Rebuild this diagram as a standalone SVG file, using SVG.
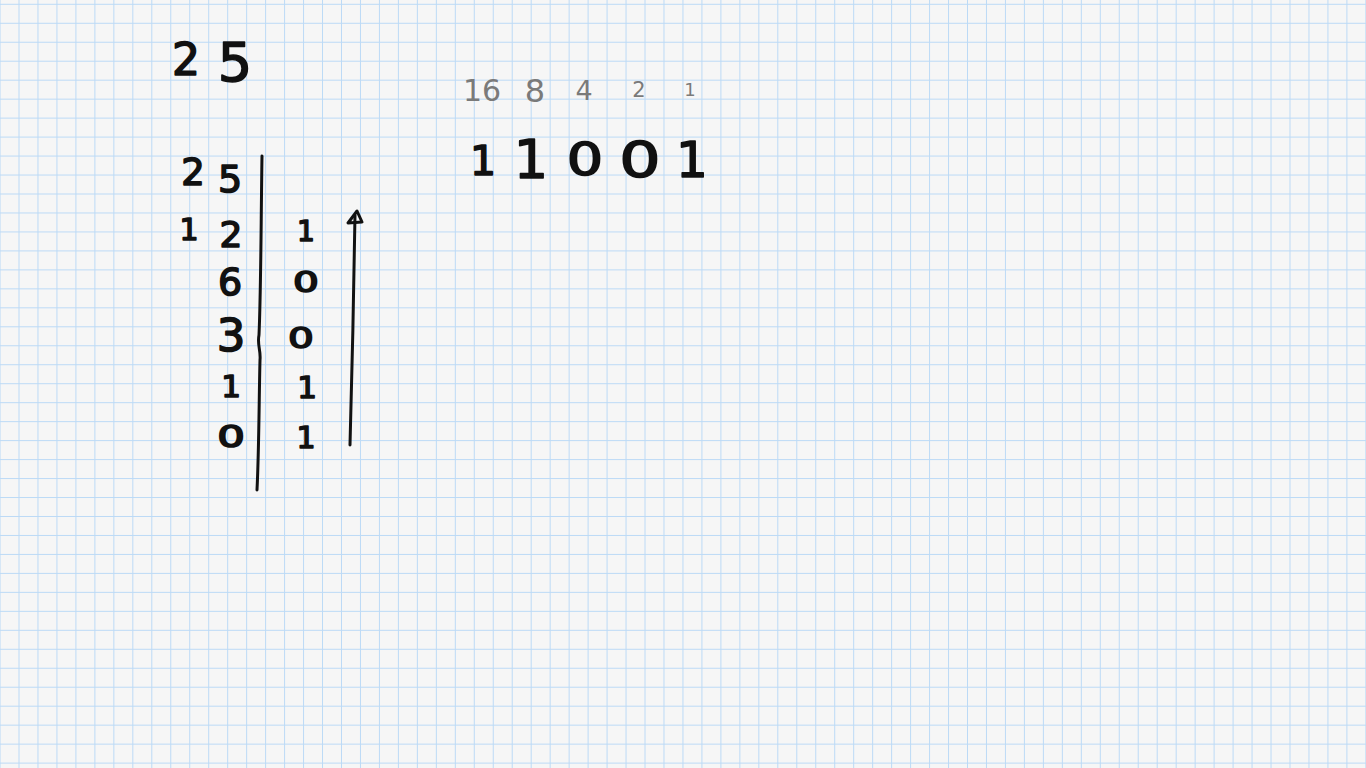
<svg xmlns="http://www.w3.org/2000/svg" width="1366" height="768" viewBox="0 0 1366 768">
<defs>
<pattern id="grid" patternUnits="userSpaceOnUse" x="18.5" y="3.8" width="18.97" height="18.97">
<rect x="0" y="0" width="1" height="18.97" fill="#bcdaf6"/>
<rect x="0" y="0" width="18.97" height="1" fill="#bcdaf6"/>
</pattern>
<style>
.ink{font-family:"DejaVu Sans",sans-serif;fill:#111;stroke:#111;stroke-width:1.6;stroke-linejoin:round;text-anchor:middle}
.pencil{font-family:"DejaVu Sans",sans-serif;fill:#7a7a7a;text-anchor:middle}
.line{fill:none;stroke:#111;stroke-width:3;stroke-linecap:round;stroke-linejoin:round}
</style>
</defs>
<rect width="1366" height="768" fill="#f6f6f6"/>
<rect width="1366" height="768" fill="url(#grid)"/>

<g id="number">
<text class="ink" x="186" y="75" font-size="44">2</text>
<text class="ink" x="235" y="81" font-size="54">5</text>
</g>

<g id="quotients">
<text class="ink" x="193" y="185" font-size="37">2</text>
<text class="ink" x="230" y="192" font-size="38">5</text>
<text class="ink" x="189" y="240" font-size="30">1</text>
<text class="ink" x="231" y="247" font-size="36">2</text>
<text class="ink" x="230" y="295" font-size="38">6</text>
<text class="ink" x="231" y="351" font-size="45">3</text>
<text class="ink" x="231" y="397" font-size="31">1</text>
<text class="ink" transform="translate(231,447) scale(1.45,1)" font-size="30">0</text>
</g>

<g id="divider">
<path class="line" d="M262,156 C261,220 261,290 259,335 C257,345 261,350 260,360 C259,400 259,450 257,490"/>
</g>

<g id="remainders">
<text class="ink" x="306" y="241" font-size="28">1</text>
<text class="ink" transform="translate(306,292) scale(1.45,1)" font-size="28">0</text>
<text class="ink" transform="translate(301,348) scale(1.4,1)" font-size="29">0</text>
<text class="ink" x="307" y="398" font-size="31">1</text>
<text class="ink" x="306" y="448" font-size="30">1</text>
</g>

<g id="connectors">
<path class="line" d="M350,445 C352,370 354,290 355,215"/>
<path class="line" d="M348,223 L357,211 L362,222 Z"/>
</g>

<g id="weights">
<text class="pencil" x="482" y="101" font-size="30">16</text>
<text class="pencil" x="535" y="102" font-size="32">8</text>
<text class="pencil" x="584" y="100" font-size="27">4</text>
<text class="pencil" x="639" y="97" font-size="21">2</text>
<text class="pencil" x="690" y="96" font-size="18">1</text>
</g>

<g id="binary">
<text class="ink" x="483" y="175" font-size="41">1</text>
<text class="ink" x="531" y="178" font-size="54">1</text>
<text class="ink" transform="translate(585,175) scale(1.3,1)" font-size="44">0</text>
<text class="ink" transform="translate(640,177) scale(1.3,1)" font-size="50">0</text>
<text class="ink" x="692" y="177" font-size="50">1</text>
</g>
</svg>
